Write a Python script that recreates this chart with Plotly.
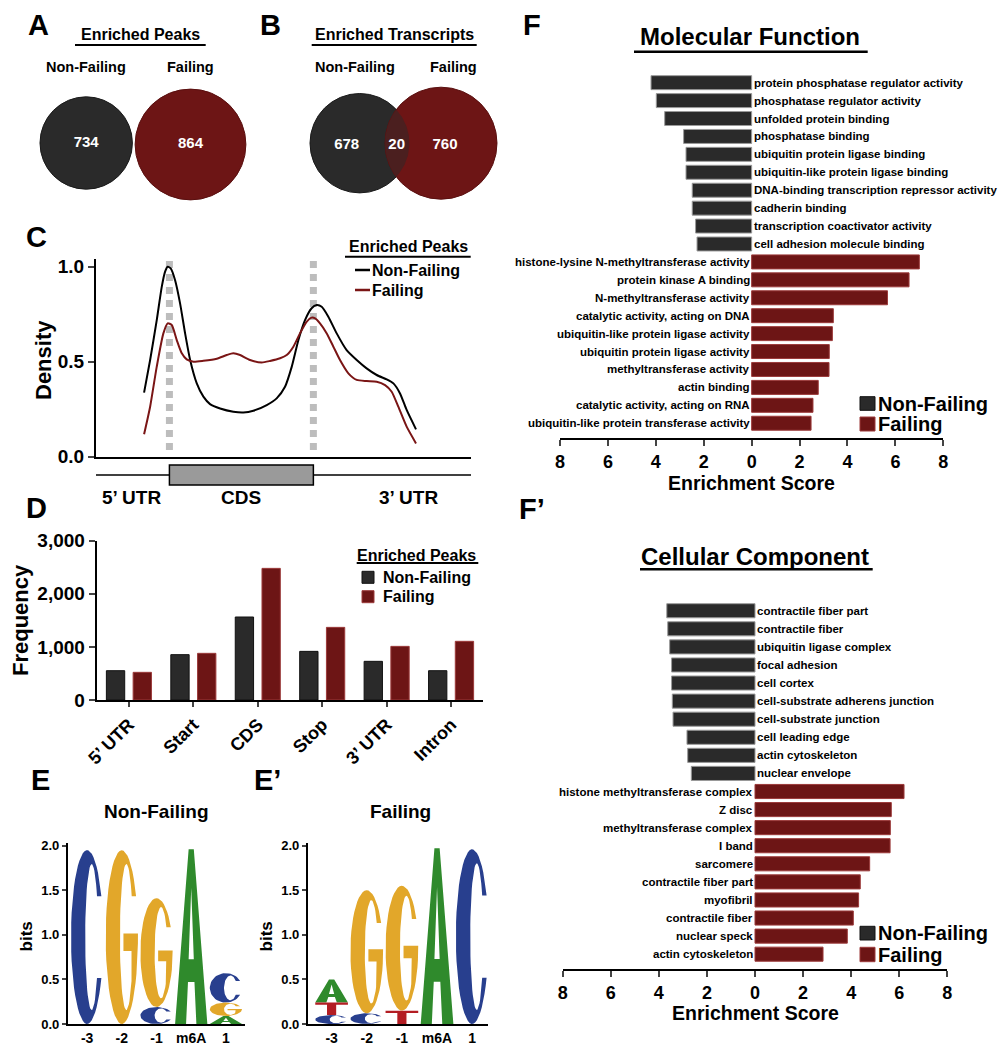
import numpy as np
import plotly.graph_objects as go

W, H = 1003, 1050
FONT = "Liberation Sans, Arial, Helvetica, sans-serif"
NF_COLOR = "#2a2a2a"
F_COLOR = "#6d1515"
NF_EDGE = "#9a9a9a"
F_EDGE = "#9c3a3a"
LAP_COLOR = "#4b1f1f"
LOGO_COLORS = {"A": "#2f8a2c", "C": "#283f8e", "G": "#e2a72a", "T": "#b31d23"}

# ---------------- data ----------------
venn_groups = ["Non-Failing", "Failing"]
peaks_counts = [734, 864]
transcripts_counts = [678, 20, 760]   # NF only, shared, F only

meta_x_nf = [0.824, 0.866, 0.912, 0.947, 0.970, 0.988, 1.009, 1.039, 1.074, 1.109, 1.144,
             1.190, 1.236, 1.282, 1.352, 1.444, 1.514, 1.583, 1.676, 1.745, 1.803, 1.850,
             1.896, 1.942, 1.988, 2.023, 2.058, 2.104, 2.162, 2.231, 2.301, 2.370, 2.440,
             2.509, 2.556, 2.602, 2.648, 2.713]
density_nf = [0.337, 0.509, 0.719, 0.895, 0.974, 1.000, 0.991, 0.930, 0.807, 0.649, 0.509,
              0.386, 0.316, 0.277, 0.254, 0.237, 0.233, 0.242, 0.272, 0.307, 0.368, 0.474,
              0.614, 0.719, 0.781, 0.798, 0.789, 0.737, 0.649, 0.561, 0.509, 0.465, 0.430,
              0.407, 0.386, 0.333, 0.246, 0.144]
meta_x_f = [0.824, 0.866, 0.912, 0.958, 0.988, 1.016, 1.051, 1.086, 1.120, 1.167, 1.236,
            1.329, 1.398, 1.444, 1.491, 1.560, 1.641, 1.699, 1.769, 1.815, 1.861, 1.907,
            1.954, 1.988, 2.012, 2.046, 2.093, 2.139, 2.185, 2.243, 2.301, 2.370, 2.440,
            2.498, 2.544, 2.590, 2.648, 2.713]
density_f = [0.118, 0.263, 0.474, 0.649, 0.702, 0.693, 0.614, 0.544, 0.512, 0.500, 0.505,
             0.516, 0.535, 0.544, 0.535, 0.509, 0.496, 0.504, 0.518, 0.535, 0.579, 0.649,
             0.711, 0.732, 0.728, 0.702, 0.649, 0.579, 0.509, 0.439, 0.404, 0.398, 0.395,
             0.377, 0.342, 0.263, 0.158, 0.070]

regions = ["5’ UTR", "Start", "CDS", "Stop", "3’ UTR", "Intron"]
freq_nf = [552, 854, 1563, 916, 728, 552]
freq_f = [521, 879, 2479, 1368, 1010, 1105]

logo_positions = ["-3", "-2", "-1", "m6A", "1"]
logo_nf_letters = [["C"], ["G"], ["C", "G"], ["A"], ["A", "G", "C"]]
logo_nf_bits = [[1.95], [1.95], [0.19, 1.22], [1.96], [0.09, 0.15, 0.33]]
logo_f_letters = [["C", "T", "A"], ["C", "G"], ["T", "G"], ["A"], ["C"]]
logo_f_bits = [[0.10, 0.14, 0.26], [0.12, 1.38], [0.15, 1.40], [1.97], [1.96]]

mf_nf_terms = ["protein phosphatase regulator activity", "phosphatase regulator activity",
               "unfolded protein binding", "phosphatase binding",
               "ubiquitin protein ligase binding", "ubiquitin-like protein ligase binding",
               "DNA-binding transcription repressor activity", "cadherin binding",
               "transcription coactivator activity", "cell adhesion molecule binding"]
mf_nf_scores = [4.20, 3.98, 3.63, 2.84, 2.74, 2.74, 2.48, 2.48, 2.34, 2.28]
mf_f_terms = ["histone-lysine N-methyltransferase activity", "protein kinase A binding",
              "N-methyltransferase activity", "catalytic activity, acting on DNA",
              "ubiquitin-like protein ligase activity", "ubiquitin protein ligase activity",
              "methyltransferase activity", "actin binding",
              "catalytic activity, acting on RNA", "ubiquitin-like protein transferase activity"]
mf_f_scores = [7.00, 6.57, 5.67, 3.41, 3.37, 3.24, 3.23, 2.78, 2.56, 2.48]

cc_nf_terms = ["contractile fiber part", "contractile fiber", "ubiquitin ligase complex",
               "focal adhesion", "cell cortex", "cell-substrate adherens junction",
               "cell-substrate junction", "cell leading edge", "actin cytoskeleton",
               "nuclear envelope"]
cc_nf_scores = [3.67, 3.63, 3.55, 3.47, 3.47, 3.44, 3.41, 2.83, 2.80, 2.65]
cc_f_terms = ["histone methyltransferase complex", "Z disc", "methyltransferase complex",
              "I band", "sarcomere", "contractile fiber part", "myofibril",
              "contractile fiber", "nuclear speck", "actin cytoskeleton"]
cc_f_scores = [6.20, 5.67, 5.63, 5.62, 4.77, 4.38, 4.31, 4.09, 3.84, 2.83]

enrich_ticks = [-8, -6, -4, -2, 0, 2, 4, 6, 8]

# ---------------- helpers ----------------
def px(x):
    return x / W


def py(y):
    return 1 - y / H


def dom_x(a, b):
    return [a / W, b / W]


def dom_y(top, bottom):
    return [1 - bottom / H, 1 - top / H]


fig = go.Figure()
annotations = []
shapes = []


def text(t, x, y, size, xanchor="center", yanchor="middle", color="black", angle=0,
         xref="paper", yref="paper", xshift=0):
    if xref == "paper":
        x = px(x)
    if yref == "paper":
        y = py(y)
    annotations.append(dict(text=t, x=x, y=y, xref=xref, yref=yref, xanchor=xanchor,
                            yanchor=yanchor, showarrow=False, textangle=angle, xshift=xshift,
                            font=dict(family=FONT, size=size, color=color, weight="bold")))


def hline(x0, x1, y, width=2, color="black"):
    shapes.append(dict(type="line", xref="paper", yref="paper", x0=px(x0), x1=px(x1),
                       y0=py(y), y1=py(y), line=dict(color=color, width=width)))


def box(x0, y0, x1, y1, fill, edge=None, width=1):
    shapes.append(dict(type="rect", xref="paper", yref="paper", x0=px(x0), x1=px(x1),
                       y0=py(y1), y1=py(y0), fillcolor=fill,
                       line=dict(color=edge or fill, width=width)))


TF = dict(family=FONT, color="black", weight="bold")

# ---------------- A / B : Venn ----------------
VENN = {"A_nf": (86.2, 143.0, 46.2), "A_f": (190.5, 144.5, 55.4),
        "B_nf": (359.7, 143.2, 49.7), "B_f": (441.0, 143.2, 56.0)}
for key, (cx, cy, r) in VENN.items():
    nf = key.endswith("nf")
    shapes.append(dict(type="circle", xref="x", yref="y", x0=cx - r, x1=cx + r,
                       y0=cy - r, y1=cy + r, layer="below",
                       fillcolor=NF_COLOR if nf else F_COLOR,
                       line=dict(color="#1a1a1a" if nf else "#5a1010", width=1)))


def lens(c1, c2, n=60):
    (x1, y1, r1), (x2, y2, r2) = c1, c2
    d = x2 - x1
    a = (d * d + r1 * r1 - r2 * r2) / (2 * d)
    h = np.sqrt(r1 * r1 - a * a)
    t1 = np.arctan2(h, a)
    t2 = np.arctan2(h, d - a)
    a1 = np.linspace(-t1, t1, n)
    a2 = np.linspace(np.pi - t2, np.pi + t2, n)
    xs = np.concatenate([x1 + r1 * np.cos(a1), x2 + r2 * np.cos(a2)])
    ys = np.concatenate([y1 + r1 * np.sin(a1), y2 + r2 * np.sin(a2)])
    return xs, ys


lx, ly = lens(VENN["B_nf"], VENN["B_f"])
fig.add_trace(go.Scatter(x=lx, y=ly, mode="lines", fill="toself", fillcolor=LAP_COLOR,
                         line=dict(width=0, color=LAP_COLOR), xaxis="x", yaxis="y",
                         hoverinfo="skip"))
fig.add_trace(go.Scatter(
    x=[86.2, 190.5, 346.7, 396.7, 445.0], y=[143.5, 144.5, 145.0, 145.0, 145.0],
    mode="text", text=[str(v) for v in peaks_counts + transcripts_counts],
    textfont=dict(family=FONT, size=15, color="white", weight="bold"),
    xaxis="x", yaxis="y", hoverinfo="skip"))

text("Enriched Peaks", 140, 35, 16)
hline(75, 205.7, 45, 2)
text("Enriched Transcripts", 394, 35, 16)
hline(311.7, 476.7, 45, 2)
text(venn_groups[0], 86, 66.7, 14.5)
text(venn_groups[1], 190.7, 66.7, 14.5)
text(venn_groups[0], 355, 66.7, 14.5)
text(venn_groups[1], 453, 66.7, 14.5)

# ---------------- C : metagene density ----------------
fig.add_trace(go.Scatter(x=meta_x_nf, y=density_nf, mode="lines", name="Non-Failing",
                         line=dict(color="black", width=2, shape="spline", smoothing=0.6),
                         xaxis="x2", yaxis="y2"))
fig.add_trace(go.Scatter(x=meta_x_f, y=density_f, mode="lines", name="Failing",
                         line=dict(color="#7a1515", width=2, shape="spline", smoothing=0.6),
                         xaxis="x2", yaxis="y2"))
for xv in (1, 2):
    shapes.append(dict(type="line", xref="x2", yref="y2", x0=xv, x1=xv, y0=0.035, y1=1.039,
                       layer="below", line=dict(color="#bdbdbd", width=7, dash="7px,6px")))
# gene model under the axis
shapes.append(dict(type="line", xref="x2", yref="paper", x0=0.49, x1=3.095, y0=py(475),
                   y1=py(475), line=dict(color="black", width=1.5)))
shapes.append(dict(type="rect", xref="x2", yref="paper", x0=1, x1=2, y0=py(485), y1=py(465),
                   fillcolor="#9a9a9a", line=dict(color="black", width=1.5)))
text("5’ UTR", 0.74, 497.7, 19, xref="x2")
text("CDS", 1.5, 497.7, 19, xref="x2")
text("3’ UTR", 2.66, 497.7, 19, xref="x2")
text("Density", 43, 360, 22, angle=-90)
# legend C
text("Enriched Peaks", 346.5, 246.7, 16, xanchor="left")
hline(345, 470.7, 256.7, 2)
hline(355, 370, 270, 2.5, "black")
hline(355, 370, 290, 2.5, "#7a1515")
text("Non-Failing", 369.5, 270, 16, xanchor="left")
text("Failing", 369.5, 290, 16, xanchor="left")

# ---------------- D : frequency bars ----------------
fig.add_trace(go.Bar(x=regions, y=freq_nf, name="Non-Failing", xaxis="x3", yaxis="y3",
                     marker=dict(color=NF_COLOR, line=dict(color="#111111", width=1))))
fig.add_trace(go.Bar(x=regions, y=freq_f, name="Failing", xaxis="x3", yaxis="y3",
                     marker=dict(color=F_COLOR, line=dict(color=F_EDGE, width=1))))
text("Frequency", 20, 620, 22, angle=-90)
text("Enriched Peaks", 355, 555, 16, xanchor="left")
hline(356.7, 478.3, 563, 2)
box(362, 571.3, 374, 583.3, NF_COLOR, "#111111")
box(362, 590.7, 374, 602.7, F_COLOR, F_EDGE)
text("Non-Failing", 380.5, 577.3, 16, xanchor="left")
text("Failing", 380.5, 596.7, 16, xanchor="left")

# ---------------- E / E' : sequence logos ----------------
HW = 0.465


def ell(cx, cy, rx, ry, a0, a1, n=48):
    t = np.radians(np.linspace(a0, a1, n))
    return list(cx + rx * np.cos(t)), list(cy + ry * np.sin(t))


def glyph(letter):
    """unit-box outline polygons and holes for a logo letter"""
    icx, icy, irx, iry = 0.64, 0.5, 0.2, 0.42
    end = 28
    yt = 0.5 + 0.5 * np.sin(np.radians(end))
    ai = np.degrees(np.arcsin((yt - 0.5) / iry))
    if letter == "C":
        ox, oy = ell(0.5, 0.5, 0.5, 0.5, end, 360 - end)
        ix, iy = ell(icx, icy, irx, iry, 360 - ai, ai)
        return [(ox + ix, oy + iy)], []
    if letter == "G":
        ox, oy = ell(0.5, 0.5, 0.5, 0.5, end, 356)
        ang = np.degrees(np.arccos((0.80 - icx) / irx))
        ix, iy = ell(icx, icy, irx, iry, 360 - ang, ai)
        xs = ox + [1.0, 0.55, 0.55, 0.80] + ix
        ys = oy + [0.52, 0.52, 0.42, 0.42] + iy
        return [(xs, ys)], []
    if letter == "A":
        outer = ([0, 0.42, 0.58, 1, 0.66, 0.60, 0.40, 0.34],
                 [0, 1, 1, 0, 0, 0.24, 0.24, 0])
        hole = ([0.42, 0.58, 0.5], [0.37, 0.37, 0.78])
        return [outer], [hole]
    # T
    return [([0.36, 0.64, 0.64, 1, 1, 0, 0, 0.36],
             [0, 0, 0.82, 0.82, 1, 1, 0.82, 0.82])], []


def add_logo(letters, bits, xa, ya):
    polys = {k: ([], []) for k in LOGO_COLORS}
    holes = ([], [])
    for i, (ls, bs) in enumerate(zip(letters, bits)):
        pos = i + 1
        base = 0.0
        for L, b in zip(ls, bs):
            outs, hs = glyph(L)
            for gx, gy in outs:
                polys[L][0].extend(list(pos - HW + np.array(gx) * 2 * HW) + [None])
                polys[L][1].extend(list(base + np.array(gy) * b) + [None])
            for gx, gy in hs:
                holes[0].extend(list(pos - HW + np.array(gx) * 2 * HW) + [None])
                holes[1].extend(list(base + np.array(gy) * b) + [None])
            base += b
    for L, (xs, ys) in polys.items():
        if xs:
            fig.add_trace(go.Scatter(x=xs, y=ys, mode="lines", fill="toself",
                                     fillcolor=LOGO_COLORS[L],
                                     line=dict(width=0, color=LOGO_COLORS[L]),
                                     xaxis=xa, yaxis=ya, hoverinfo="skip"))
    if holes[0]:
        fig.add_trace(go.Scatter(x=holes[0], y=holes[1], mode="lines", fill="toself",
                                 fillcolor="white", line=dict(width=0, color="white"),
                                 xaxis=xa, yaxis=ya, hoverinfo="skip"))


add_logo(logo_nf_letters, logo_nf_bits, "x4", "y4")
add_logo(logo_f_letters, logo_f_bits, "x5", "y5")
text("Non-Failing", 155.7, 811.7, 19)
text("Failing", 400, 811.7, 19)
text("bits", 26.7, 936.7, 17, angle=-90)
text("bits", 266.7, 936.7, 17, angle=-90)

# ---------------- F / F' : GO enrichment ----------------
LABEL_SIZE = 11.5


def add_go(nf_terms, nf_scores, f_terms, f_scores, xa, ya, grp):
    n = len(nf_terms)
    y_nf = list(range(n))
    y_f = list(range(n, n + len(f_terms)))
    fig.add_trace(go.Bar(x=[-s for s in nf_scores], y=y_nf, orientation="h", width=0.78,
                         offsetgroup=grp, name="Non-Failing", xaxis=xa, yaxis=ya,
                         marker=dict(color=NF_COLOR, line=dict(color=NF_EDGE, width=1))))
    fig.add_trace(go.Bar(x=f_scores, y=y_f, orientation="h", width=0.78,
                         offsetgroup=grp, name="Failing", xaxis=xa, yaxis=ya,
                         marker=dict(color=F_COLOR, line=dict(color=F_EDGE, width=1))))
    for t, yy in zip(nf_terms, y_nf):
        text(t, 0, yy, LABEL_SIZE, xanchor="left", xref=xa, yref=ya, xshift=0)
    for t, yy in zip(f_terms, y_f):
        text(t, 0, yy, LABEL_SIZE, xanchor="right", xref=xa, yref=ya, xshift=0)


add_go(mf_nf_terms, mf_nf_scores, mf_f_terms, mf_f_scores, "x6", "y6", "mf")
add_go(cc_nf_terms, cc_nf_scores, cc_f_terms, cc_f_scores, "x7", "y7", "cc")

text("Molecular Function", 750, 36.7, 24)
hline(634, 867.7, 51.7, 2.5)
text("Cellular Component", 755, 556.7, 24)
hline(640, 872.7, 569.3, 2.5)
text("Enrichment Score", 751.7, 483, 19.5)
text("Enrichment Score", 755, 1013, 19.5)
# legends F / F'
box(860, 396.7, 875, 410.3, NF_COLOR, "#111111")
box(860, 417.0, 875, 431.0, F_COLOR, F_EDGE)
text("Non-Failing", 876, 404, 20, xanchor="left")
text("Failing", 876, 424, 20, xanchor="left")
box(860, 926.3, 875, 940.0, NF_COLOR, "#111111")
box(860, 947.3, 875, 961.7, F_COLOR, F_EDGE)
text("Non-Failing", 876, 933.3, 20, xanchor="left")
text("Failing", 876, 955, 20, xanchor="left")

# ---------------- panel letters ----------------
for lab, x, y in [("A", 38, 25), ("B", 270, 25), ("C", 36.7, 236.7), ("D", 36, 508.3),
                  ("E", 40, 780), ("E’", 267, 780), ("F", 531.7, 25), ("F’", 532, 509)]:
    text(lab, x, y, 29)

# ---------------- axes ----------------
AX = dict(showgrid=False, zeroline=False, linecolor="black", fixedrange=True, automargin=False)
hidden = dict(visible=False, showgrid=False, zeroline=False, fixedrange=True, automargin=False)

layout = dict(
    width=W, height=H, autosize=False,
    margin=dict(l=0, r=0, t=0, b=0, pad=0, autoexpand=False),
    paper_bgcolor="white", plot_bgcolor="white", showlegend=False,
    barmode="group", bargap=0.17, bargroupgap=0.315,
    font=dict(family=FONT, color="black"),
    xaxis=dict(domain=dom_x(0, 500), range=[0, 500], anchor="y", **hidden),
    yaxis=dict(domain=dom_y(0, 210), range=[210, 0], anchor="x", **hidden),
    xaxis2=dict(domain=dom_x(96, 471), range=[0.49, 3.095], anchor="y2", showline=True,
                linewidth=2, ticks="", showticklabels=False, **AX),
    yaxis2=dict(domain=dom_y(259.1, 456.7), range=[0, 1.04], anchor="x2", showline=True,
                linewidth=2, ticks="outside", ticklen=6, tickwidth=2,
                tickvals=[0, 0.5, 1.0], ticktext=["0.0", "0.5", "1.0"],
                tickfont=dict(size=19, **TF), **AX),
    xaxis3=dict(domain=dom_x(96.7, 483.3), range=[-0.5, 5.5], anchor="y3", showline=True,
                linewidth=2, ticks="outside", ticklen=5, tickwidth=2, tickangle=-45,
                tickfont=dict(size=18, **TF), **AX),
    yaxis3=dict(domain=dom_y(540.7, 700), range=[0, 3000], anchor="x3", showline=True,
                linewidth=2, ticks="outside", ticklen=6, tickwidth=2,
                tickvals=[0, 1000, 2000, 3000], ticktext=["0", "1,000", "2,000", "3,000"],
                tickfont=dict(size=19, **TF), **AX),
    xaxis4=dict(domain=dom_x(67.7, 245), range=[0.44, 5.55], anchor="y4", showline=True,
                linewidth=1.5, ticks="", tickvals=[1, 2, 3, 4, 5], ticktext=logo_positions,
                tickfont=dict(size=14, **TF), **AX),
    yaxis4=dict(domain=dom_y(843, 1024), range=[0, 2.03], anchor="x4", showline=True,
                linewidth=1.5, ticks="outside", ticklen=4, tickwidth=1.5,
                tickvals=[0, 0.5, 1, 1.5, 2], ticktext=["0.0", "0.5", "1.0", "1.5", "2.0"],
                tickfont=dict(size=13, **TF), **AX),
    xaxis5=dict(domain=dom_x(307.7, 488), range=[0.32, 5.45], anchor="y5", showline=True,
                linewidth=1.5, ticks="", tickvals=[1, 2, 3, 4, 5], ticktext=logo_positions,
                tickfont=dict(size=14, **TF), **AX),
    yaxis5=dict(domain=dom_y(843, 1024), range=[0, 2.03], anchor="x5", showline=True,
                linewidth=1.5, ticks="outside", ticklen=4, tickwidth=1.5,
                tickvals=[0, 0.5, 1, 1.5, 2], ticktext=["0.0", "0.5", "1.0", "1.5", "2.0"],
                tickfont=dict(size=13, **TF), **AX),
    xaxis6=dict(domain=dom_x(560, 943.3), range=[-8, 8], anchor="y6", showline=True,
                linewidth=2, ticks="outside", ticklen=6, tickwidth=2,
                tickvals=enrich_ticks, ticktext=[str(abs(v)) for v in enrich_ticks],
                tickfont=dict(size=18, **TF), **AX),
    yaxis6=dict(domain=dom_y(73.7, 438.3), range=[19.84, -0.5], anchor="x6", **hidden),
    xaxis7=dict(domain=dom_x(562.7, 947.3), range=[-8, 8], anchor="y7", showline=True,
                linewidth=2, ticks="outside", ticklen=6, tickwidth=2,
                tickvals=enrich_ticks, ticktext=[str(abs(v)) for v in enrich_ticks],
                tickfont=dict(size=18, **TF), **AX),
    yaxis7=dict(domain=dom_y(601.7, 969), range=[19.82, -0.5], anchor="x7", **hidden),
    annotations=annotations,
    shapes=shapes,
)
fig.update_layout(**layout)
fig.write_html("out.html", config={"displayModeBar": False},
               post_script="document.body.style.margin='0';")
